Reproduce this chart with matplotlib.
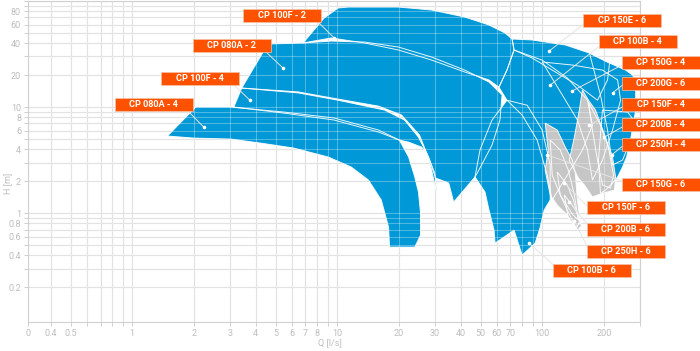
import matplotlib
matplotlib.use('Agg')
import matplotlib.pyplot as plt
from matplotlib.patches import Polygon, Rectangle
from matplotlib.ticker import NullLocator, FixedLocator, FixedFormatter

# ---------------- data (Q [l/s], H [m]) ----------------
# blue operating ranges
q_080A_4 = [1.485, 2.04, 3.02, 5.50, 9.67, 15.9, 20.1, 22.3, 23.9, 24.9, 25.5, 25.5, 23.9, 18.0, 17.8, 16.4, 14.2, 11.7, 9.03, 6.15, 4.24, 3.02, 1.99]
h_080A_4 = [5.33, 10.0, 10.0, 8.97, 7.88, 6.07, 4.88, 3.38, 2.19, 1.58, 1.0, 0.62, 0.478, 0.478, 0.738, 1.33, 2.05, 2.72, 3.38, 4.10, 4.57, 4.99, 5.10]

q_100F_4 = [3.13, 3.42, 6.44, 10.1, 17.0, 21.3, 24.9, 27.9, 29.9, 30.6, 28.9, 27.3, 25.8, 22.3, 20.1, 15.9, 9.67, 5.50]
h_100F_4 = [10.0, 15.1, 13.6, 11.6, 9.37, 7.54, 5.21, 3.38, 2.38, 1.51, 2.54, 3.68, 4.19, 4.67, 4.88, 5.81, 7.54, 8.77]

q_080A_2 = [3.42, 4.59, 6.81, 9.35, 13.6, 19.9, 28.9, 41.9, 55.0, 63.7, 62.2, 56.9, 49.7, 47.0, 37.0, 35.0, 30.2, 28.2, 25.2, 20.6, 15.9, 9.35, 6.44]
h_080A_2 = [15.1, 39.3, 40.2, 41.9, 41.0, 36.8, 29.6, 22.3, 17.2, 13.0, 7.54, 4.38, 2.66, 2.19, 1.27, 1.92, 2.14, 3.16, 5.44, 8.41, 10.2, 12.2, 13.9]

q_100F_2 = [6.81, 8.63, 10.1, 11.3, 19.9, 28.9, 41.9, 55.0, 65.9, 71.3, 72.9, 67.3, 61.5, 55.0, 41.9, 28.9, 19.9, 13.6, 9.35]
h_100F_2 = [40.2, 69.1, 85.9, 87.7, 87.7, 82.2, 70.6, 59.4, 49.9, 43.8, 34.5, 22.3, 15.4, 18.0, 21.4, 27.7, 34.5, 40.2, 44.8]

q_100B_6 = [47.0, 49.7, 56.9, 67.3, 84.5, 100, 109.4, 109.4, 102.3, 97.8, 92.4, 79.8, 72.9, 58.9, 58.2, 55.0, 52.6]
h_100B_6 = [2.19, 3.93, 7.54, 11.6, 10.4, 6.07, 2.84, 1.33, 1.07, 0.738, 0.521, 0.402, 0.691, 0.521, 0.691, 1.07, 1.58]

q_100B_4 = [61.5, 67.3, 72.9, 100, 132.6, 166.3, 175.8, 157.1, 132.6, 111.9, 105.8, 94.5, 79.8, 67.3]
h_100B_4 = [15.4, 22.3, 34.5, 27.7, 18.8, 11.6, 6.76, 3.93, 2.28, 1.33, 2.28, 4.88, 8.41, 11.6]

q_150E_6 = [71.3, 89.3, 129.6, 170.0, 213.1, 208.3, 186.1, 148.5, 111.9, 89.3, 72.9]
h_150E_6 = [43.8, 42.9, 38.5, 32.3, 26.0, 18.0, 11.6, 16.1, 22.3, 29.0, 34.5]

q_150G_4 = [100, 140.3, 196.8, 233.2, 241.2, 220.3, 196.8, 175.8, 166.3, 148.5, 125.3]
h_150G_4 = [26.6, 24.9, 22.3, 18.0, 11.6, 6.07, 3.16, 2.05, 3.93, 7.54, 13.0]

q_200G_6 = [170.0, 213.1, 255.3, 276.2, 285.8, 285.8, 270.1, 246.6, 220.3, 208.3, 192.4]
h_200G_6 = [32.3, 26.0, 22.3, 20.0, 16.8, 9.37, 4.88, 3.16, 2.84, 6.07, 13.0]

q_250H_4 = [196.8, 261.1, 279.3, 273.2, 258.1, 246.6, 233.2, 220.3, 203.6, 192.4, 188.2]
h_250H_4 = [9.37, 8.97, 7.54, 5.44, 3.38, 2.72, 2.19, 1.92, 1.65, 1.54, 3.16]

# grey operating ranges
q_150F_4 = [157.1, 168.1, 182.0, 203.6, 220.3, 228.0, 225.4, 196.8, 175.8, 160.7, 150.2, 135.6, 143.5, 151.8]
h_150F_4 = [14.5, 11.6, 9.37, 5.21, 3.38, 2.19, 1.65, 1.54, 1.42, 1.84, 2.14, 3.16, 5.21, 9.37]

q_200B_4 = [168.1, 192.4, 210.7, 222.8, 215.4, 196.8, 186.1, 175.8]
h_200B_4 = [11.1, 6.76, 4.10, 2.28, 1.72, 1.84, 3.16, 6.07]

q_150G_6 = [103.4, 118.4, 129.6, 140.3, 145.1, 148.5, 153.6, 145.1, 132.6, 118.4, 109.4, 103.4, 107.0]
h_150G_6 = [7.06, 6.07, 4.19, 3.16, 2.38, 1.33, 0.805, 0.738, 0.957, 1.19, 1.48, 2.54, 3.93]

q_150F_6 = [109.4, 122.5, 134.1, 143.5, 150.2, 140.3, 122.5, 111.9]
h_150F_6 = [4.88, 3.93, 2.54, 1.48, 0.859, 0.978, 1.48, 2.28]

q_200B_6 = [118.4, 132.6, 141.9, 151.8, 146.8, 134.1, 122.5]
h_200B_6 = [2.44, 1.84, 1.33, 0.822, 0.722, 1.02, 1.48]

q_250H_6 = [128.2, 140.3, 150.2, 155.3, 148.5, 134.1]
h_250H_6 = [1.48, 1.19, 0.957, 0.754, 0.691, 0.897]

# labels and their anchor points (Q, H)
label_names = ["CP 100F - 2", "CP 080A - 2", "CP 100F - 4", "CP 080A - 4",
               "CP 150E - 6", "CP 100B - 4", "CP 150G - 4", "CP 200G - 6",
               "CP 150F - 4", "CP 200B - 4", "CP 250H - 4", "CP 150G - 6",
               "CP 150F - 6", "CP 200B - 6", "CP 250H - 6", "CP 100B - 6"]
anchor_q = [9.67, 5.44, 3.75, 2.23, 108.2, 109.4, 140.3, 220.3,
            170.0, 201.3, 217.9, 105.8, 128.2, 135.6, 143.5, 86.3]
anchor_h = [44.8, 23.3, 11.6, 6.48, 33.8, 16.1, 14.2, 13.6,
            6.76, 5.21, 3.53, 3.53, 1.92, 1.27, 0.840, 0.521]

# axis ticks
x_grid = [0.4, 0.5, 0.6, 0.7, 0.8, 0.9, 1, 2, 3, 4, 5, 6, 7, 8, 9,
          10, 20, 30, 40, 50, 60, 70, 80, 90, 100, 200, 300]
x_labels = {0.31: "0", 0.4: "0.4", 0.5: "0.5", 1: "1", 2: "2", 3: "3", 4: "4", 5: "5",
            6: "6", 7: "7", 8: "8", 10: "10", 20: "20", 30: "30", 40: "40", 50: "50",
            60: "60", 70: "70", 100: "100", 200: "200"}
y_grid = [0.2, 0.3, 0.4, 0.5, 0.6, 0.7, 0.8, 0.9, 1, 2, 3, 4, 5, 6, 7, 8, 9,
          10, 20, 30, 40, 50, 60, 70, 80, 90, 100]
y_labels = {0.2: "0.2", 0.4: "0.4", 0.6: "0.6", 0.8: "0.8", 1: "1", 2: "2", 4: "4",
            6: "6", 8: "8", 10: "10", 20: "20", 40: "40", 60: "60", 80: "80"}

blue_regions = [(q_080A_4, h_080A_4), (q_100F_4, h_100F_4), (q_080A_2, h_080A_2),
                (q_100F_2, h_100F_2), (q_100B_6, h_100B_6), (q_100B_4, h_100B_4),
                (q_150E_6, h_150E_6), (q_150G_4, h_150G_4), (q_200G_6, h_200G_6),
                (q_250H_4, h_250H_4)]
grey_regions = [(q_150F_4, h_150F_4), (q_200B_4, h_200B_4), (q_150G_6, h_150G_6),
                (q_150F_6, h_150F_6), (q_200B_6, h_200B_6), (q_250H_6, h_250H_6)]

# label box positions (figure pixels: left, top) and leader start
box_pos = [(243, 9), (193, 39), (161, 72), (115, 98),
           (583, 14), (599, 35), (622, 56), (622, 77),
           (622, 98), (622, 118), (622, 138), (622, 178),
           (587, 201), (587, 223), (587, 245), (553, 264)]
lead_start = [(318, 22), (265, 51), (233, 84), (187, 110),
              (589, 20), (606, 41), (624, 64), (624, 84),
              (628, 104), (624, 126), (624, 145), (628, 183),
              (588, 207), (592, 230), (588, 248), (557, 268)]

# ---------------- drawing ----------------
W, H = 700, 351
fig = plt.figure(figsize=(W / 100, H / 100), dpi=100)
fig.patch.set_facecolor('white')
ax = fig.add_axes([28 / W, 1 - 322 / H, 612 / W, 321 / H])
ax.set_xscale('log')
ax.set_yscale('log')
ax.set_xlim(0.31, 300)
ax.set_ylim(0.094, 100)

grid_c = '#d6d6d6'
for v in x_grid:
    ax.axvline(v, color=grid_c, lw=0.8, zorder=0)
    ax.axvline(v, color='white', lw=0.8, alpha=0.3, zorder=2.5)
for v in y_grid:
    ax.axhline(v, color=grid_c, lw=0.8, zorder=0)
    ax.axhline(v, color='white', lw=0.8, alpha=0.3, zorder=2.5)

BLUE = '#0098d6'
GREY = '#c6c6c6'
for q, h in blue_regions:
    ax.add_patch(Polygon(list(zip(q, h)), closed=True, facecolor=BLUE,
                         edgecolor='none', zorder=1))
for q, h in grey_regions:
    ax.add_patch(Polygon(list(zip(q, h)), closed=True, facecolor=GREY,
                         edgecolor='none', zorder=1.5))
for q, h in blue_regions + grey_regions:
    ax.add_patch(Polygon(list(zip(q, h)), closed=True, facecolor='none',
                         edgecolor='white', lw=0.7, alpha=0.9, zorder=3))

# ticks
ax.xaxis.set_minor_locator(NullLocator())
ax.yaxis.set_minor_locator(NullLocator())
xt = sorted(set(x_grid) | set(x_labels.keys()))
ax.xaxis.set_major_locator(FixedLocator(xt))
ax.xaxis.set_major_formatter(FixedFormatter([x_labels.get(v, "") for v in xt]))
yt = sorted(set(y_grid) | set(y_labels.keys()))
ax.yaxis.set_major_locator(FixedLocator(yt))
ax.yaxis.set_major_formatter(FixedFormatter([y_labels.get(v, "") for v in yt]))
tick_c = '#bdbdbd'
ax.tick_params(axis='both', which='major', length=3, width=0.7, color='#cfcfcf',
               labelcolor=tick_c, labelsize=6.5, pad=2)
for lab in ax.get_xticklabels() + ax.get_yticklabels():
    lab.set_fontfamily(['Roboto', 'DejaVu Sans'])
for s in ax.spines.values():
    s.set_color('#d0d0d0')
    s.set_linewidth(0.8)

fig.text(330 / W, 1 - 343 / H, "Q [l/s]", ha='center', va='center', color=tick_c,
         fontsize=6.5, family=['Roboto', 'DejaVu Sans'])
fig.text(8 / W, 1 - 183 / H, "H [m]", ha='center', va='center', rotation=90,
         color=tick_c, fontsize=6.5, family=['Roboto', 'DejaVu Sans'])

# labels
ORANGE = '#ff5200'
bw, bh = 77.5, 12.8
for name, qa, ha, (bx, by), (sx, sy) in zip(label_names, anchor_q, anchor_h, box_pos, lead_start):
    ax.annotate('', xy=(qa, ha), xycoords='data',
                xytext=(sx / W, 1 - sy / H), textcoords='figure fraction',
                arrowprops=dict(arrowstyle='-', color='#e4e4e4', lw=0.7,
                                shrinkA=0, shrinkB=0),
                annotation_clip=False, zorder=4)
    ax.plot([qa], [ha], 'o', ms=2.6, color='white', mec='none', zorder=5, clip_on=False)
    fig.add_artist(Rectangle((bx / W, 1 - (by + bh) / H), bw / W, bh / H,
                             transform=fig.transFigure, facecolor=ORANGE,
                             edgecolor='#f3c2a8', lw=0.5, zorder=10))
    fig.text((bx + bw / 2) / W, 1 - (by + bh / 2 + 0.3) / H, name, ha='center', va='center',
             color='white', fontsize=6.6, fontweight='bold',
             family=['Roboto', 'DejaVu Sans'], zorder=11)

fig.savefig('out.png', dpi=100, facecolor='white')
